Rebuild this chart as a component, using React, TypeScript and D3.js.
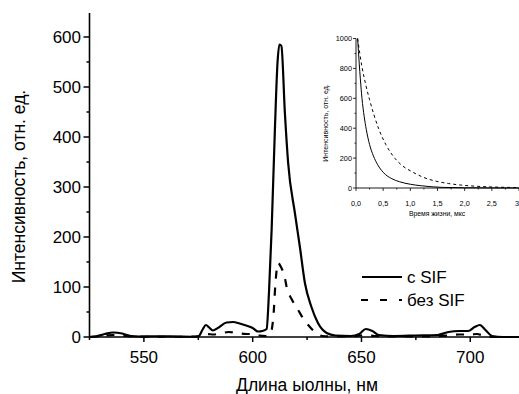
import React from "react";
import * as d3 from "d3";

// Main spectrum: wavelength (nm) and intensity
const solidNm = [525, 528, 532, 536, 540, 544, 548, 555, 565, 572, 575, 577, 578.5, 580, 581.7, 584, 588, 591, 594, 597, 600, 602.5, 604.5, 606.4, 607.5, 608.7, 610.2, 611.4, 612.3, 613.2, 614.8, 616.3, 619.4, 621.7, 624, 627, 630, 634, 638, 645, 649, 652, 655, 658, 665, 675, 685, 690, 695, 699, 702, 704.4, 707, 710, 715, 722.4];
const solidVal = [0, 1, 6, 9, 7, 2, 1, 1.5, 1, 0.5, 1, 15, 24, 19, 13, 18, 29, 30, 27, 23, 18, 11, 12, 16, 90, 214, 414, 548, 585, 582, 448, 348, 248, 180, 108, 60, 28, 8, 3, 2, 6, 16, 12, 4, 2, 3, 4, 10, 12, 12, 20, 24, 14, 2, 0, 0];

const dashNm = [525, 530, 536, 542, 550, 570, 577, 579, 582, 585, 589, 593, 597, 600, 603, 606, 608, 609.5, 610.5, 611.7, 613, 614.8, 615.6, 618, 620.9, 623.5, 626.3, 629.4, 632, 640, 648, 652, 656, 665, 680, 690, 695, 700, 703, 706, 710, 722.4];
const dashVal = [0, 2, 4, 2, 0.5, 0.5, 3, 6, 5, 7, 10, 8, 6, 6, 3, 2, 5, 40, 110, 148, 140, 118, 100, 75, 54, 35, 20, 7, 2, 1, 2, 4, 2, 1, 1, 3, 5, 5, 6, 3, 0, 0];

const xMajorTicks = [550, 600, 650, 700];
const xMinorTicks = [525, 575, 625, 675];
const yMajorTicks = [0, 100, 200, 300, 400, 500, 600];
const yMinorTicks = [50, 150, 250, 350, 450, 550];

// Inset decay curves: lifetime (µs) and intensity
const insetSolidT = [0.03, 0.06, 0.08, 0.11, 0.15, 0.19, 0.25, 0.32, 0.4, 0.5, 0.66, 0.8, 1.0, 1.2, 1.4, 1.6, 2.0, 2.5, 3.0];
const insetSolidV = [1000, 830, 730, 600, 480, 390, 290, 215, 155, 105, 62, 42, 25, 15, 8, 4, 1.5, 0.5, 0];
const insetDashT = [0.03, 0.11, 0.18, 0.25, 0.33, 0.42, 0.55, 0.72, 0.85, 1.03, 1.25, 1.49, 1.7, 1.92, 2.2, 2.5, 2.8, 3.0];
const insetDashV = [1000, 810, 690, 590, 490, 394, 290, 197, 150, 109, 70, 44, 30, 20, 12, 7, 4, 3];

const insetXTicks = [0, 0.5, 1, 1.5, 2, 2.5, 3];
const insetXMinor = [0.25, 0.75, 1.25, 1.75, 2.25, 2.75];
const insetYTicks = [0, 200, 400, 600, 800, 1000];
const insetYMinor = [100, 300, 500, 700, 900];

const FONT = "'Liberation Sans', Arial, sans-serif";

export default function App() {
  const x = d3.scaleLinear().domain([525, 722.4]).range([89.5, 519]);
  const y = d3.scaleLinear().domain([0, 648]).range([337, 13]);

  const line = d3
    .line<[number, number]>()
    .x((d) => x(d[0]))
    .y((d) => y(d[1]))
    .curve(d3.curveMonotoneX);

  const solidPts: [number, number][] = solidNm.map((n, i) => [n, solidVal[i]]);
  const dashPts: [number, number][] = dashNm.map((n, i) => [n, dashVal[i]]);

  const ix = d3.scaleLinear().domain([0, 3]).range([356, 519]);
  const iy = d3.scaleLinear().domain([0, 1000]).range([188, 38.5]);
  const iline = d3
    .line<[number, number]>()
    .x((d) => ix(d[0]))
    .y((d) => iy(d[1]))
    .curve(d3.curveMonotoneX);
  const iSolid: [number, number][] = insetSolidT.map((t, i) => [t, insetSolidV[i]]);
  const iDash: [number, number][] = insetDashT.map((t, i) => [t, insetDashV[i]]);

  const x0 = x.range()[0];
  const y0 = y(0);
  const ix0 = ix(0);
  const iy0 = iy(0);

  return (
    <svg
      width={519}
      height={394}
      style={{ position: "absolute", left: 0, top: 0, background: "#fff" }}
      fontFamily={FONT}
    >
      <rect width={519} height={394} fill="#fff" />
      {/* main curves */}
      <path d={line(solidPts) || ""} fill="none" stroke="#000" strokeWidth={2.2} strokeLinejoin="round" />
      <path d={line(dashPts) || ""} fill="none" stroke="#000" strokeWidth={2.2} strokeDasharray="8,9" />

      {/* main axes */}
      <line x1={x0} x2={x0} y1={y(648)} y2={y0} stroke="#000" strokeWidth={1.6} />
      <line x1={x0} x2={519} y1={y0} y2={y0} stroke="#000" strokeWidth={1.6} />
      {yMajorTicks.map((t) => (
        <g key={"ym" + t}>
          <line x1={x0 - 6} x2={x0} y1={y(t)} y2={y(t)} stroke="#000" strokeWidth={1.5} />
          <text x={x0 - 8.5} y={y(t) + 6} fontSize={17} textAnchor="end">
            {t}
          </text>
        </g>
      ))}
      {yMinorTicks.map((t) => (
        <line key={"yn" + t} x1={x0 - 3} x2={x0} y1={y(t)} y2={y(t)} stroke="#000" strokeWidth={1.5} />
      ))}
      {xMajorTicks.map((t) => (
        <g key={"xm" + t}>
          <line x1={x(t)} x2={x(t)} y1={y0} y2={y0 + 5} stroke="#000" strokeWidth={1.5} />
          <text x={x(t)} y={363} fontSize={17} textAnchor="middle">
            {t}
          </text>
        </g>
      ))}
      {xMinorTicks.map((t) => (
        <line key={"xn" + t} x1={x(t)} x2={x(t)} y1={y0} y2={y0 + 3} stroke="#000" strokeWidth={1.5} />
      ))}
      <text x={307} y={391} fontSize={17.5} textAnchor="middle">
        Длина ыолны, нм
      </text>
      <text transform="translate(25,186.5) rotate(-90)" fontSize={17.5} textAnchor="middle">
        Интенсивность, отн. ед.
      </text>

      {/* legend */}
      <line x1={362} x2={402} y1={277} y2={277} stroke="#000" strokeWidth={2.2} />
      <text x={407} y={283} fontSize={17}>
        с SIF
      </text>
      <line x1={361} x2={402} y1={300} y2={300} stroke="#000" strokeWidth={2.2} strokeDasharray="7,12" />
      <text x={407} y={306} fontSize={17}>
        без SIF
      </text>

      {/* inset */}
      <path d={iline(iSolid) || ""} fill="none" stroke="#000" strokeWidth={1} />
      <path d={iline(iDash) || ""} fill="none" stroke="#000" strokeWidth={1} strokeDasharray="3,3" />
      <line x1={ix0} x2={ix0} y1={iy(1000)} y2={iy0} stroke="#000" strokeWidth={0.9} />
      <line x1={ix0} x2={519} y1={iy0} y2={iy0} stroke="#000" strokeWidth={0.9} />
      {insetYTicks.map((t) => (
        <g key={"iy" + t}>
          <line x1={ix0 - 3} x2={ix0} y1={iy(t)} y2={iy(t)} stroke="#000" strokeWidth={0.8} />
          <text x={ix0 - 4} y={iy(t) + 2.6} fontSize={7.3} textAnchor="end">
            {t}
          </text>
        </g>
      ))}
      {insetYMinor.map((t) => (
        <line key={"iyn" + t} x1={ix0 - 1.5} x2={ix0} y1={iy(t)} y2={iy(t)} stroke="#000" strokeWidth={0.8} />
      ))}
      {insetXTicks.map((t) => (
        <g key={"ix" + t}>
          <line x1={ix(t)} x2={ix(t)} y1={iy0} y2={iy0 + 3} stroke="#000" strokeWidth={0.8} />
          <text x={t === 3 ? ix(t) - 4 : ix(t)} y={205.5} fontSize={7.3} textAnchor={t === 3 ? "start" : "middle"}>
            {t === 3 ? "3" : d3.format(".1f")(t).replace(".", ",")}
          </text>
        </g>
      ))}
      {insetXMinor.map((t) => (
        <line key={"ixn" + t} x1={ix(t)} x2={ix(t)} y1={iy0} y2={iy0 + 1.5} stroke="#000" strokeWidth={0.8} />
      ))}
      <text x={437} y={215.5} fontSize={6.8} textAnchor="middle">
        Время жизни, мкс
      </text>
      <text transform="translate(328,123) rotate(-90)" fontSize={7} textAnchor="middle">
        Интенсивность, отн. ед.
      </text>
    </svg>
  );
}
